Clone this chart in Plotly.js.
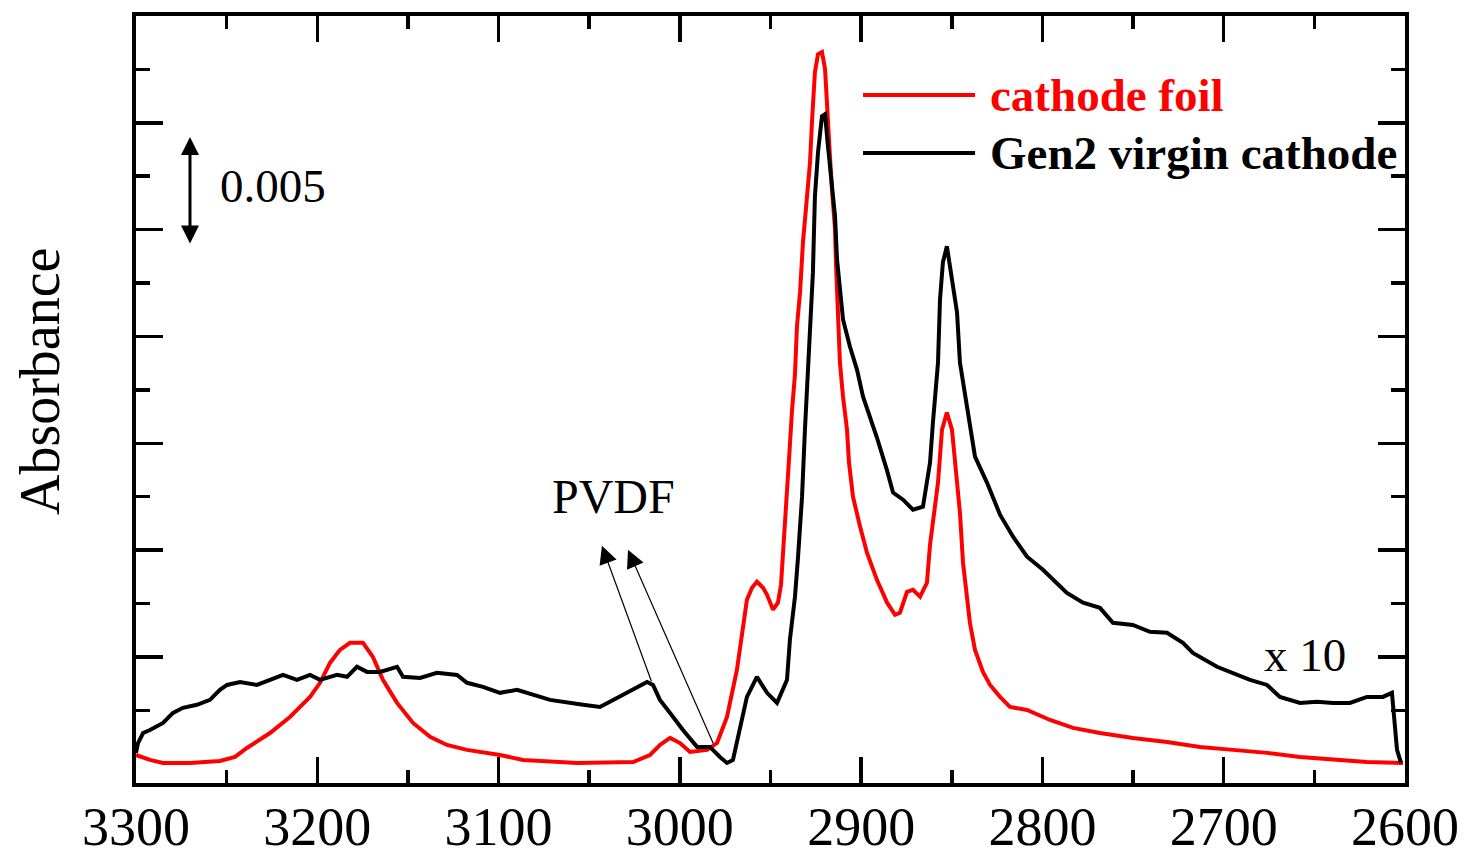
<!DOCTYPE html>
<html>
<head>
<meta charset="utf-8">
<script src="https://cdn.plot.ly/plotly-3.0.1.min.js"></script>
<style>html,body{margin:0;padding:0;background:#fff;}#chart{width:1465px;height:860px;}</style>
</head>
<body>
<div id="chart"></div>
<script>
// Wavenumber (cm^-1) and absorbance (units of 0.001)
const foilX = [3300, 3292.3, 3285.1, 3270.2, 3253.7, 3245.4, 3238.8, 3226.1, 3215.1, 3204.0, 3198.5, 3193.0, 3187.5, 3182.0, 3174.8, 3169.3, 3163.8, 3156.0, 3147.2, 3137.8, 3128.5, 3117.4, 3099.2, 3086.5, 3056.7, 3025.8, 3016.5, 3011.0, 3005.4, 2999.9, 2994.4, 2985.0, 2979.5, 2974.0, 2968.5, 2965.2, 2963.0, 2960.2, 2957.5, 2954.1, 2951.9, 2948.6, 2945.9, 2944.2, 2943.1, 2941.5, 2939.8, 2938.1, 2936.5, 2935.4, 2933.7, 2932.1, 2929.9, 2928.2, 2927.1, 2925.5, 2923.8, 2921.6, 2919.9, 2918.3, 2917.2, 2916.1, 2914.4, 2913.9, 2912.8, 2911.7, 2910.0, 2907.8, 2906.7, 2904.5, 2900.6, 2896.8, 2891.3, 2885.7, 2881.3, 2878.6, 2874.7, 2871.4, 2867.5, 2863.7, 2862.0, 2860.4, 2857.6, 2855.4, 2852.7, 2849.9, 2847.1, 2845.5, 2843.8, 2840.0, 2837.2, 2832.8, 2828.9, 2823.4, 2817.9, 2808.5, 2795.8, 2783.1, 2768.3, 2750.1, 2731.3, 2713.1, 2694.9, 2676.1, 2657.9, 2639.7, 2621.0, 2601.1];
const foilY = [0.41, 0.18, 0.04, 0.04, 0.13, 0.32, 0.74, 1.44, 2.19, 3.13, 3.79, 4.72, 5.33, 5.66, 5.66, 5.00, 3.93, 2.85, 1.91, 1.26, 0.88, 0.65, 0.41, 0.18, 0.04, 0.08, 0.41, 0.88, 1.21, 0.97, 0.55, 0.65, 0.97, 2.19, 4.40, 6.50, 7.68, 8.24, 8.52, 8.24, 7.91, 7.21, 7.54, 8.38, 10.02, 12.36, 14.24, 16.58, 18.22, 20.47, 22.06, 24.40, 26.56, 28.15, 30.07, 32.37, 33.21, 33.31, 32.51, 30.50, 28.43, 26.89, 25.01, 23.47, 21.12, 18.78, 17.19, 15.64, 14.10, 12.50, 11.10, 9.88, 8.61, 7.54, 6.97, 7.07, 8.05, 8.14, 7.82, 8.47, 10.25, 11.42, 13.16, 15.64, 16.44, 15.64, 13.30, 11.75, 9.41, 6.60, 5.33, 4.30, 3.69, 3.13, 2.66, 2.52, 2.05, 1.68, 1.44, 1.21, 1.02, 0.79, 0.65, 0.51, 0.32, 0.18, 0.08, 0.04];

const virginX = [3300, 3298.9, 3296.1, 3292.3, 3285.1, 3279.6, 3274.1, 3266.4, 3259.2, 3253.7, 3249.8, 3242.6, 3233.3, 3226.1, 3218.9, 3211.2, 3204.0, 3198.5, 3189.1, 3183.6, 3178.1, 3172.6, 3165.4, 3156.0, 3152.7, 3143.3, 3134.0, 3122.9, 3117.4, 3108.6, 3099.2, 3089.8, 3081.0, 3071.6, 3053.4, 3044.1, 3034.7, 3025.9, 3018.1, 3014.8, 3011.0, 3005.4, 2998.3, 2990.5, 2983.4, 2977.9, 2974.0, 2970.7, 2966.8, 2963.0, 2957.5, 2951.9, 2946.4, 2940.9, 2939.3, 2936.5, 2934.8, 2933.7, 2932.6, 2931.0, 2929.9, 2928.2, 2926.6, 2925.5, 2923.8, 2921.6, 2919.9, 2918.3, 2916.1, 2914.4, 2913.3, 2911.7, 2910.0, 2906.2, 2902.3, 2899.0, 2896.8, 2891.3, 2885.7, 2882.4, 2876.9, 2871.4, 2865.9, 2862.0, 2860.4, 2857.6, 2856.5, 2854.9, 2852.7, 2849.9, 2847.1, 2845.5, 2842.7, 2840.0, 2837.2, 2830.6, 2823.4, 2816.2, 2808.5, 2799.7, 2793.1, 2786.5, 2777.6, 2768.3, 2761.1, 2750.1, 2740.7, 2731.3, 2722.5, 2717.0, 2703.7, 2694.9, 2685.5, 2676.1, 2669.0, 2657.9, 2648.6, 2639.7, 2630.4, 2621.0, 2612.2, 2607.2, 2606.1, 2604.4, 2602.2];
const virginY = [0.51, 0.97, 1.44, 1.58, 1.91, 2.38, 2.62, 2.76, 2.99, 3.46, 3.69, 3.83, 3.69, 3.93, 4.16, 3.93, 4.16, 3.93, 4.16, 4.07, 4.54, 4.30, 4.30, 4.54, 4.07, 4.02, 4.26, 4.16, 3.79, 3.60, 3.32, 3.46, 3.22, 2.99, 2.76, 2.66, 3.08, 3.46, 3.83, 3.69, 2.99, 2.38, 1.58, 0.79, 0.79, 0.32, 0.04, 0.18, 1.72, 3.13, 4.07, 3.32, 2.85, 3.93, 5.80, 7.82, 9.69, 10.82, 12.50, 15.64, 17.28, 20.33, 23.00, 26.56, 28.62, 30.31, 30.40, 28.90, 27.22, 25.62, 23.61, 22.34, 20.80, 19.53, 18.45, 17.19, 16.67, 15.27, 13.72, 12.69, 12.36, 11.89, 12.03, 14.10, 15.97, 18.78, 21.73, 23.47, 24.22, 22.67, 21.12, 18.78, 17.19, 15.97, 14.38, 13.16, 11.66, 10.63, 9.69, 9.08, 8.52, 8.00, 7.54, 7.30, 6.60, 6.50, 6.18, 6.13, 5.66, 5.19, 4.54, 4.26, 3.93, 3.69, 3.13, 2.85, 2.90, 2.85, 2.85, 3.13, 3.13, 3.32, 2.38, 0.65, 0.04];

const seriesNames = ['cathode foil', 'Gen2 virgin cathode'];
const seriesColors = ['#ff0000', '#000000'];
const xTickVals = [3300, 3200, 3100, 3000, 2900, 2800, 2700, 2600];
const xTickText = ['3300', '3200', '3100', '3000', '2900', '2800', '2700', '2600'];
const yMajorTicks = [5, 10, 15, 20, 25, 30];
const yMinorTicks = [2.5, 7.5, 12.5, 17.5, 22.5, 27.5, 32.5];
// PVDF arrows: [tail x, tail y, head x, head y]
const pvdfArrows = [[3015.4, 3.79, 3043.0, 10.21], [2981.2, 0.88, 3028.6, 10.02]];

const serif = 'Liberation Serif, Times New Roman, serif';

const traces = [
  {x: foilX, y: foilY, name: seriesNames[0], type: 'scatter', mode: 'lines',
   line: {color: seriesColors[0], width: 4}},
  {x: virginX, y: virginY, name: seriesNames[1], type: 'scatter', mode: 'lines',
   line: {color: seriesColors[1], width: 4}}
];

const annotations = [
  {xref: 'paper', yref: 'paper', x: -0.0757, y: 0.524, text: 'Absorbance', textangle: -90, showarrow: false,
   xanchor: 'center', yanchor: 'middle', font: {family: serif, size: 56, color: '#000'}},
  {xref: 'paper', yref: 'paper', x: 0.0646, y: 0.7784, text: '0.005', showarrow: false,
   xanchor: 'left', yanchor: 'middle', font: {family: serif, size: 47, color: '#000'}},
  {xref: 'paper', yref: 'paper', x: 0.04255, y: 0.8423, ax: 0, ay: 108, text: '', showarrow: true,
   arrowside: 'end+start', arrowhead: 2, arrowsize: 1.2, arrowwidth: 3, arrowcolor: '#000'},
  {xref: 'paper', yref: 'paper', x: 0.3262, y: 0.3729, text: 'PVDF', showarrow: false,
   xanchor: 'left', yanchor: 'middle', font: {family: serif, size: 48, color: '#000'}},
  {xref: 'paper', yref: 'paper', x: 0.8873, y: 0.1669, text: 'x 10', showarrow: false,
   xanchor: 'left', yanchor: 'middle', font: {family: serif, size: 47, color: '#000'}},
  {xref: 'paper', yref: 'paper', x: 0.6714, y: 0.8970, text: '<b>' + seriesNames[0] + '</b>', showarrow: false,
   xanchor: 'left', yanchor: 'middle', font: {family: serif, size: 47, color: seriesColors[0]}},
  {xref: 'paper', yref: 'paper', x: 0.6714, y: 0.8214, text: '<b>' + seriesNames[1] + '</b>', showarrow: false,
   xanchor: 'left', yanchor: 'middle', font: {family: serif, size: 47, color: seriesColors[1]}}
];
pvdfArrows.forEach(a => annotations.push({
  xref: 'x', yref: 'y', axref: 'x', ayref: 'y', ax: a[0], ay: a[1], x: a[2], y: a[3],
  text: '', showarrow: true, arrowhead: 2, arrowsize: 3, arrowwidth: 1.2, arrowcolor: '#000'
}));

const shapes = [
  {type: 'line', xref: 'paper', yref: 'paper', x0: 0.5729, x1: 0.6612, y0: 0.8970, y1: 0.8970,
   line: {color: seriesColors[0], width: 4}},
  {type: 'line', xref: 'paper', yref: 'paper', x0: 0.5729, x1: 0.6612, y0: 0.8214, y1: 0.8214,
   line: {color: seriesColors[1], width: 4}}
];

const layout = {
  width: 1465, height: 860,
  margin: {l: 136, r: 60, t: 16, b: 77},
  paper_bgcolor: '#fff', plot_bgcolor: '#fff',
  showlegend: false,
  font: {family: serif, color: '#000'},
  xaxis: {
    range: [3300, 2600], showgrid: false, zeroline: false,
    showline: true, linewidth: 4, linecolor: '#000', mirror: 'ticks',
    ticks: 'inside', ticklen: 26, tickwidth: 3.5, tickcolor: '#000',
    tickvals: xTickVals, ticktext: xTickText, ticklabelstandoff: -7,
    tickfont: {family: serif, size: 54, color: '#000'},
    minor: {dtick: 50, tick0: 0, ticks: 'inside', ticklen: 13, tickwidth: 3.5, tickcolor: '#000', showgrid: false}
  },
  yaxis: {
    range: [-0.9, 35.0], showgrid: false, zeroline: false,
    showline: true, linewidth: 4, linecolor: '#000', mirror: 'ticks',
    ticks: 'inside', ticklen: 27, tickwidth: 3.5, tickcolor: '#000',
    tickvals: yMajorTicks, showticklabels: false,
    minor: {tickvals: yMinorTicks, ticks: 'inside', ticklen: 14, tickwidth: 3.5, tickcolor: '#000', showgrid: false}
  },
  annotations: annotations,
  shapes: shapes
};

Plotly.newPlot('chart', traces, layout, {displayModeBar: false, staticPlot: true});
</script>
</body>
</html>
